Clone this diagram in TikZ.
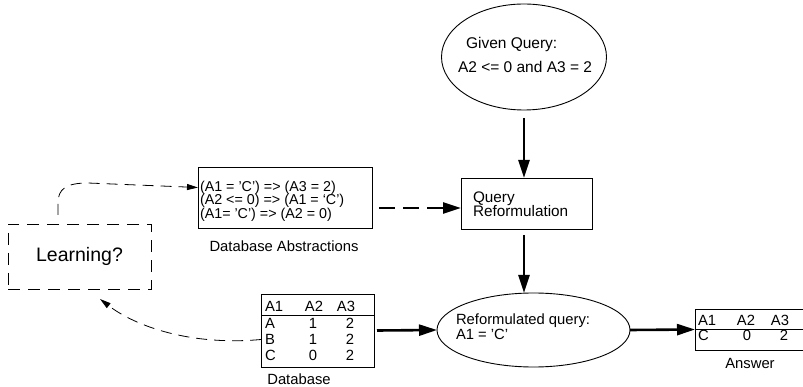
\documentclass[tikz,border=0pt]{standalone}
\usepackage{fontspec}
\setmainfont{Liberation Sans}
\usetikzlibrary{arrows.meta,shapes.geometric,calc}
\begin{document}
\begin{tikzpicture}[x=1pt,y=-1pt,
  every node/.style={font=\fontsize{14.8}{13}\selectfont, inner sep=0pt, outer sep=0pt},
  shape box/.style={draw, line width=0.9pt},
  bigarrow/.style={line width=2.6pt, -{Triangle[length=18pt,width=11pt]}},
  bigdashed/.style={bigarrow, dash pattern=on 16pt off 8pt},
  thinarrow/.style={line width=0.8pt, dash pattern=on 11pt off 7pt, -{Triangle[length=11pt,width=6pt]}},
  txt/.style={anchor=base west},
  ctxt/.style={anchor=base},
  abstxt/.style={anchor=base west, font=\fontsize{14.3}{13}\selectfont}
]
\useasboundingbox (0,0) rectangle (803,387);

% Given query
\node[shape box, ellipse, minimum width=165, minimum height=106] (gq) at (524,57) {};
\node[txt, font=\fontsize{15.5}{15}\selectfont] (gq1) at (466,48.5) {Given Query:};
\node[txt, font=\fontsize{15.5}{15}\selectfont] (gq2) at (458,72.5) {A2 <= 0 and A3 = 2};

% Query reformulation
\node[shape box, minimum width=131, minimum height=51] (qr) at (526.5,203.5) {};
\node[txt, font=\fontsize{15.3}{15}\selectfont] (qr1) at (473,202.5) {Query};
\node[txt, font=\fontsize{15.3}{15}\selectfont] (qr2) at (473,217) {Reformulation};

% Reformulated query
\node[shape box, ellipse, minimum width=193, minimum height=74] (rq) at (533.5,330) {};
\node[txt] (rq1) at (456,324) {Reformulated query:};
\node[txt] (rq2) at (456,339) {A1 = 'C'};

% Database abstractions
\node[shape box, minimum width=174, minimum height=61] (abs) at (285,197.5) {};
\node[abstxt] (ab1) at (200,191.5) {(A1 = 'C') => (A3 = 2)};
\node[abstxt] (ab2) at (200,205) {(A2 <= 0) => (A1 = `C')};
\node[abstxt] (ab3) at (200,218.5) {(A1= 'C') => (A2 = 0)};
\node[ctxt] (abl) at (284,252) {Database Abstractions};

% Learning
\node[draw, line width=0.8pt, dash pattern=on 12pt off 8pt, minimum width=143, minimum height=65,
      font=\fontsize{19.5}{20}\selectfont] (learn) at (79.5,256.5) {Learning?};

% Database table
\node[shape box, minimum width=113, minimum height=73] (db) at (317.5,330.5) {};
\draw[line width=0.9pt] (db.west |- 0,315) -- (db.east |- 0,315);
\node[txt] (dh1) at (265,312) {A1};
\node[ctxt] (dh2) at (314,312) {A2};
\node[ctxt] (dh3) at (346,312) {A3};
\node[txt] (d11) at (265,328) {A};
\node[ctxt] (d12) at (313,328) {1};
\node[ctxt] (d13) at (350,328) {2};
\node[txt] (d21) at (265,344) {B};
\node[ctxt] (d22) at (313,344) {1};
\node[ctxt] (d23) at (350,344) {2};
\node[txt] (d31) at (265,360) {C};
\node[ctxt] (d32) at (313,360) {0};
\node[ctxt] (d33) at (350,360) {2};
\node[ctxt] (dbl) at (299,384) {Database};

% Answer table (cut at the right edge)
\node[minimum width=108, minimum height=41] (ans) at (749,329.5) {};
\draw[line width=0.9pt] (ans.north east) -- (ans.north west) -- (ans.south west) -- (ans.south east);
\draw[line width=0.9pt] (ans.west) -- (ans.east);
\node[txt] (ah1) at (698,325.5) {A1};
\node[ctxt] (ah2) at (746,325.5) {A2};
\node[ctxt] (ah3) at (780,325.5) {A3};
\node[txt] (a11) at (698,341) {C};
\node[ctxt] (a12) at (747,341) {0};
\node[ctxt] (a13) at (784,341) {2};
\node[ctxt] (ansl) at (750,368.5) {Answer};

% Connectors
\draw[bigarrow] ($(gq.south)+(0,8)$) -- (gq.south |- qr.north);
\draw[bigarrow] ($(gq.south |- qr.south)+(0,6)$) -- (gq.south |- rq.north);
\draw[bigarrow] ($(db.east)+(3,0)$) -- (rq.west);
\draw[bigarrow] (rq.east) -- (ans.west);
\draw[bigdashed] ($(abs.east)+(7,10.5)$) coordinate (dst) -- (qr.west |- dst);
\draw[thinarrow] ($(learn.north west)+(50,-9)$) -- ++(0,-12)
   .. controls +(0,-14) and (66,183) .. (88,183) -- ($(abs.west)+(0,-10)$);
\draw[thinarrow] ($(db.west)+(0,9)$) .. controls (190,346) and (135,326) .. ($(learn.south)+(20.5,10)$);
\end{tikzpicture}
\end{document}
